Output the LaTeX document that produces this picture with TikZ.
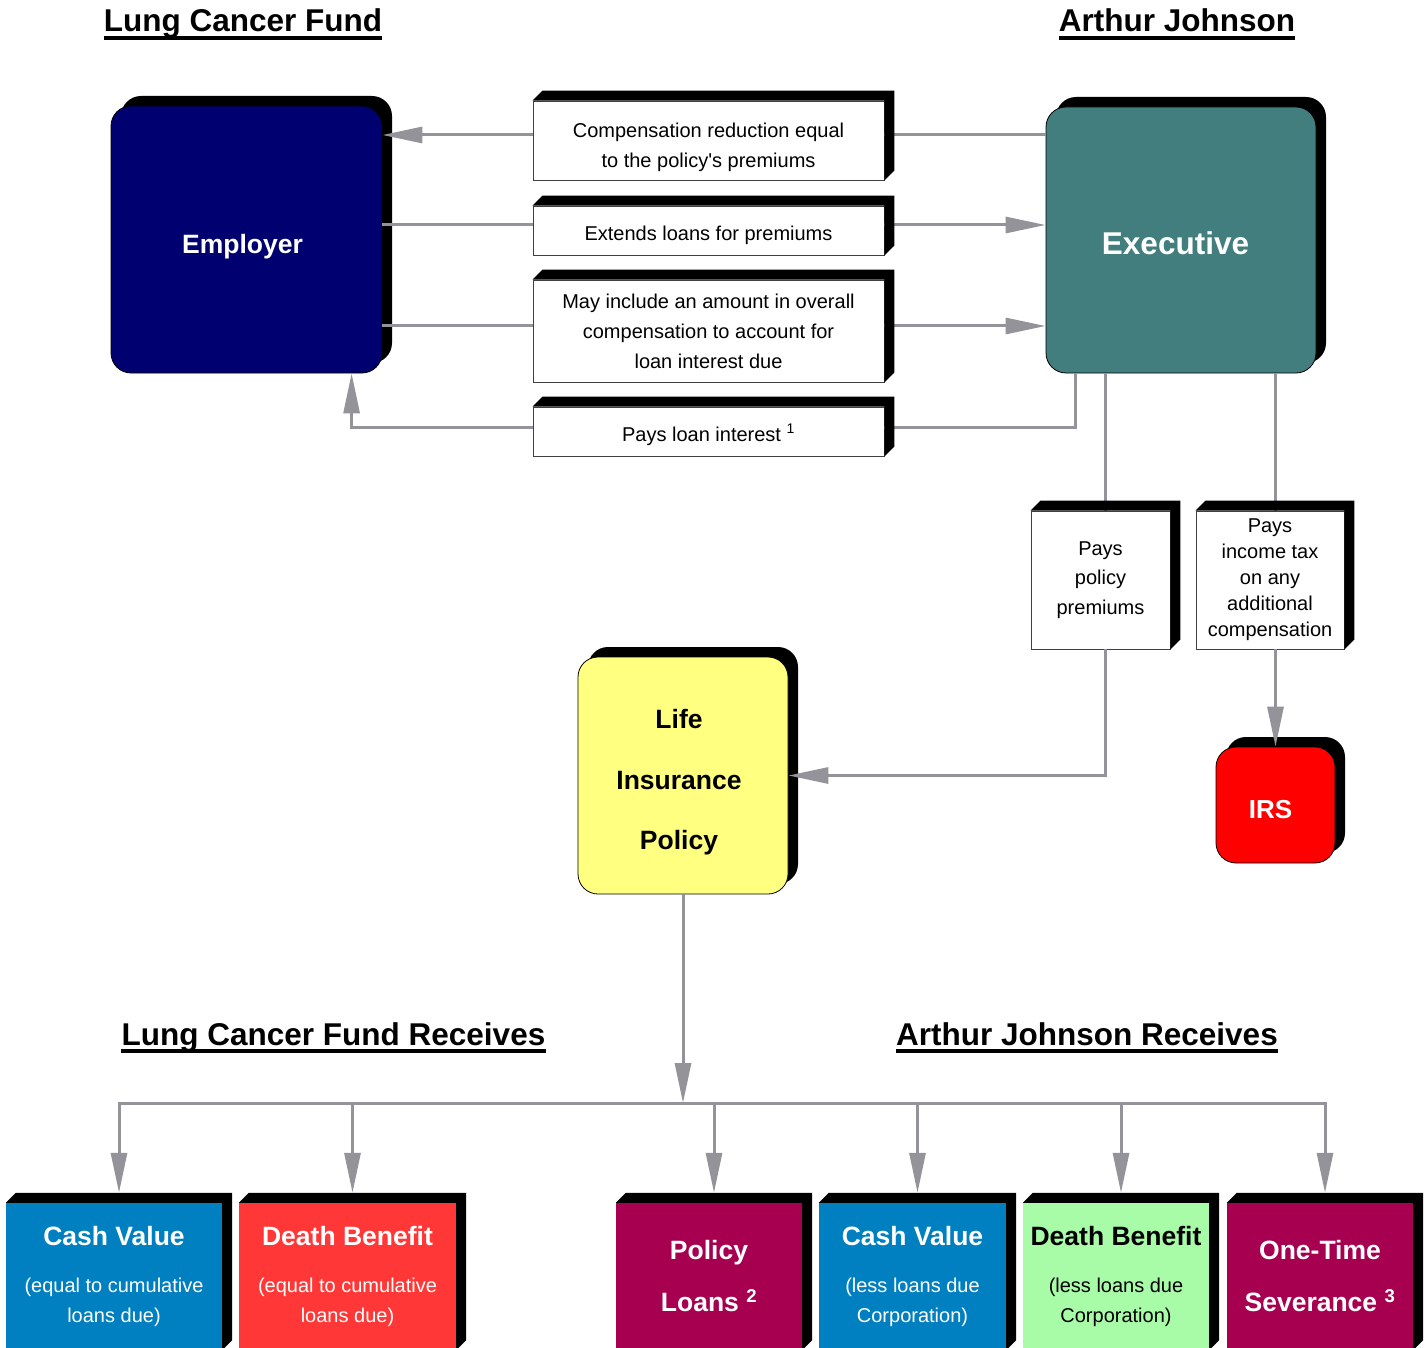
\documentclass[tikz,border=0pt]{standalone}
\usepackage{fontspec}
\setmainfont{Liberation Sans}
\usetikzlibrary{calc,shadows,arrows.meta}
\definecolor{navyb}{HTML}{000070}
\definecolor{tealb}{HTML}{427E7E}
\definecolor{yel}{HTML}{FFFF80}
\definecolor{cashb}{HTML}{0080C0}
\definecolor{deathr}{HTML}{FF3737}
\definecolor{plum}{HTML}{A80050}
\definecolor{mint}{HTML}{A8FCA8}
\definecolor{conngray}{HTML}{939399}
\newcommand\extrude[1]{\fill[black] (#1.north west) -- ++(10,10) -- ($(#1.north east)+(10,10)$) -- ($(#1.south east)+(10,10)$) -- (#1.south east) -- (#1.north east) -- cycle;}
\newcommand\tall[1]{\rule{0pt}{#1}}
\begin{document}
\begin{tikzpicture}[x=1pt,y=1pt,
  rbox/.style={rectangle, rounded corners=20pt, draw=black, line width=0.8pt, inner sep=0pt, align=center,
     general shadow={fill=black, shadow xshift=10pt, shadow yshift=10pt}},
  lbox/.style={rectangle, draw=black!75, line width=0.8pt, fill=white, inner sep=0pt, align=center,
     font=\fontsize{20}{30}\selectfont},
  cbox/.style={rectangle, inner sep=0pt, minimum height=147pt, align=center, text=white,
     font=\fontsize{20}{30}\selectfont},
  ttl/.style={font=\fontsize{31.5}{36}\selectfont\bfseries, inner sep=0pt, anchor=base},
  conn/.style={draw=conngray, line width=3pt},
  arr/.style={conn, -{Triangle[length=40pt,width=16pt]}}
]
\useasboundingbox (0,0) rectangle (1427,-1348);

% titles
\node[ttl] (t1) at (243,-32) {Lung Cancer Fund};
\node[ttl] (t2) at (1177,-32) {Arthur Johnson};
\node[ttl] (t3) at (333.5,-1045) {Lung Cancer Fund Receives};
\node[ttl] (t4) at (1087,-1045) {Arthur Johnson Receives};
\foreach \t in {t1,t2,t3,t4}
  {\draw[line width=3.2pt] ($(\t.base west)+(0,-6)$) -- ($(\t.base east)+(0,-6)$);}

% main rounded boxes
\node[rbox, fill=navyb, text=white, minimum width=271pt, minimum height=267pt,
      font=\bfseries\fontsize{26.5}{30}\selectfont] (emp) at (246.5,-239.5)
      {\hspace*{-8pt}\tall{33.3pt}Employer};
\node[rbox, fill=tealb, text=white, minimum width=270pt, minimum height=266pt,
      font=\bfseries\fontsize{31.5}{36}\selectfont] (ex) at (1181,-240)
      {\hspace*{-11pt}\tall{29pt}Executive};
\node[rbox, fill=yel, minimum width=210pt, minimum height=237pt,
      font=\bfseries\fontsize{26.5}{60.5}\selectfont] (life) at (683,-775.5)
      {\hspace*{-8pt}\tall{33.3pt}Life\\\hspace*{-8pt}Insurance\\\hspace*{-8pt}Policy};
\node[rbox, fill=red, text=white, minimum width=119pt, minimum height=116pt,
      font=\bfseries\fontsize{26}{30}\selectfont] (irs) at (1275.5,-805)
      {\hspace*{-10pt}\tall{27pt}IRS};

% label boxes
\node[lbox, minimum width=351pt, minimum height=79pt] (b1) at (708.5,-140.5)
  {\tall{28.6pt}Compensation reduction equal\\to the policy\textquotesingle s premiums};
\node[lbox, minimum width=351pt, minimum height=49pt] (b2) at (708.5,-230.5)
  {\tall{24.6pt}Extends loans for premiums};
\node[lbox, minimum width=351pt, minimum height=102pt] (b3) at (708.5,-331)
  {May include an amount in overall\\compensation to account for\\loan interest due};
\node[lbox, minimum width=351pt, minimum height=49pt] (b4) at (708.5,-431.5)
  {\tall{23.5pt}Pays loan interest \textsuperscript{1}};
\node[lbox, minimum width=139pt, minimum height=138pt, font=\fontsize{20}{29.5}\selectfont] (b5) at (1100.5,-580)
  {Pays\\policy\\premiums};
\node[lbox, minimum width=148pt, minimum height=138pt, font=\fontsize{20}{26}\selectfont] (b6) at (1270,-580)
  {Pays\\income tax\\on any\\additional\\compensation};

% bottom boxes
\node[cbox, fill=cashb, minimum width=216pt] (c1) at (114,-1276.5)
  {{\bfseries\fontsize{26.5}{30}\selectfont Cash Value}\\[17pt](equal to cumulative\\loans due)};
\node[cbox, fill=deathr, minimum width=217pt] (c2) at (347.5,-1276.5)
  {{\bfseries\fontsize{26.5}{30}\selectfont Death Benefit}\\[17pt](equal to cumulative\\loans due)};
\node[cbox, fill=plum, minimum width=186pt, font=\bfseries\fontsize{26.5}{52}\selectfont] (c3) at (709,-1276.5)
  {Policy\\Loans \textsuperscript{2}};
\node[cbox, fill=cashb, minimum width=187pt] (c4) at (912.5,-1276.5)
  {{\bfseries\fontsize{26.5}{30}\selectfont Cash Value}\\[17pt](less loans due\\Corporation)};
\node[cbox, fill=mint, text=black, minimum width=186pt] (c5) at (1116,-1276.5)
  {{\bfseries\fontsize{26.5}{30}\selectfont Death Benefit}\\[17pt](less loans due\\Corporation)};
\node[cbox, fill=plum, minimum width=186pt, font=\bfseries\fontsize{26.5}{52}\selectfont] (c6) at (1320,-1276.5)
  {One-Time\\Severance \textsuperscript{3}};

% connectors
\draw[conn] ([yshift=5.5]b1.east) -- ([yshift=5.5]b1.east -| ex.west);
\draw[arr] ([yshift=5.5]b1.west) -- ([yshift=5.5]b1.west -| emp.east);
\draw[conn] ([yshift=5.5]b2.west) -- ([yshift=5.5]b2.west -| emp.east);
\draw[arr] ([yshift=5.5]b2.east) -- ([yshift=5.5]b2.east -| ex.west);
\draw[conn] ([yshift=5]b3.west) -- ([yshift=5]b3.west -| emp.east);
\draw[arr] ([yshift=5]b3.east) -- ([yshift=5]b3.east -| ex.west);
\draw[conn] ([xshift=30]ex.south west) |- ([yshift=4.5]b4.east);
\draw[arr] ([yshift=4.5]b4.west) -| ([xshift=241]emp.south west);
\draw[conn] ([xshift=60]ex.south west) -- ([xshift=60]ex.south west |- b5.north);
\draw[arr] ([xshift=60]ex.south west |- b5.south) |- (life.east);
\draw[conn] (irs.north |- ex.south) -- (irs.north |- b6.north);
\draw[arr] (irs.north |- b6.south) -- (irs.north);

\coordinate (bus) at (684,-1103);
\draw[arr] (life.south) -- (life.south |- bus);
\draw[conn, {Triangle[length=40pt,width=16pt]}-{Triangle[length=40pt,width=16pt]}]
  ([xshift=5,yshift=10]c1.north) |- (bus) -| ([xshift=5,yshift=10]c6.north);
\foreach \c in {c2,c3,c4,c5}
  {\draw[arr] ([xshift=5]\c.north |- bus) -- ([xshift=5,yshift=10]\c.north);}

% 3D extrusions
\foreach \b in {b1,b2,b3,b4,b5,b6,c1,c2,c3,c4,c5,c6}
  {\extrude{\b}}
\end{tikzpicture}
\end{document}
